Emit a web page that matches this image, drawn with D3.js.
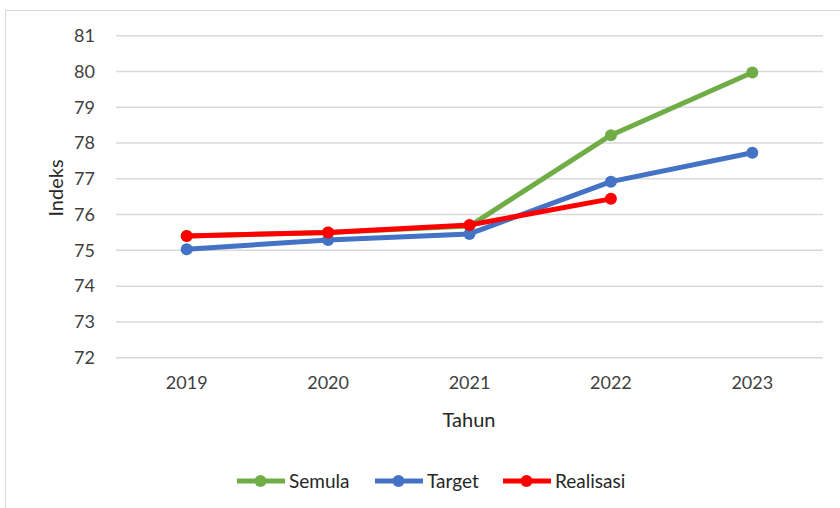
<!DOCTYPE html>
<html>
<head>
<meta charset="utf-8">
<script src="https://cdn.jsdelivr.net/npm/d3@7"></script>
<style>
  html, body { margin: 0; padding: 0; background: #fff; }
  svg { display: block; font-family: Lato, "Open Sans", sans-serif; }
</style>
</head>
<body>
<svg id="chart" width="840" height="508"></svg>
<script>
// Years on the x axis
const years = ["2019", "2020", "2021", "2022", "2023"];
// Index values per series (null = no data)
const semula = [75.4, 75.5, 75.68, 78.22, 79.97];
const target = [75.03, 75.29, 75.46, 76.92, 77.73];
const realisasi = [75.4, 75.5, 75.71, 76.44, null];
// Y axis ticks
const yTicks = [72, 73, 74, 75, 76, 77, 78, 79, 80, 81];

const series = [
  { name: "Semula", color: "#70AD47", values: semula },
  { name: "Target", color: "#4472C4", values: target },
  { name: "Realisasi", color: "#FF0000", values: realisasi }
];

const svg = d3.select("#chart");

// Chart frame
svg.append("rect")
  .attr("x", 5.5).attr("y", 10.5)
  .attr("width", 860).attr("height", 520)
  .attr("fill", "#fff")
  .attr("stroke", "#d9d9d9").attr("stroke-width", 1);

const plot = { left: 116, right: 823, top: 35.7, bottom: 357.7 };

const x = d3.scaleBand().domain(years).range([plot.left, plot.right]);
const y = d3.scaleLinear().domain([72, 81]).range([plot.bottom, plot.top]);

// Gridlines
svg.append("g")
  .selectAll("line")
  .data(yTicks)
  .join("line")
  .attr("x1", plot.left).attr("x2", plot.right)
  .attr("y1", d => y(d)).attr("y2", d => y(d))
  .attr("stroke", "#d9d9d9").attr("stroke-width", 1.5);

// Y axis labels
const yAxis = svg.append("g")
  .attr("transform", `translate(${plot.left},0)`)
  .call(d3.axisLeft(y).tickValues(yTicks).tickSize(0).tickPadding(21));
yAxis.select(".domain").remove();
yAxis.selectAll("text")
  .attr("font-size", 18).attr("fill", "#404040")
  .attr("font-family", "Lato, 'Open Sans', sans-serif");

// X axis labels
const xAxis = svg.append("g")
  .attr("transform", `translate(0,${plot.bottom})`)
  .call(d3.axisBottom(x).tickSize(0).tickPadding(19));
xAxis.select(".domain").remove();
xAxis.selectAll("text")
  .attr("font-size", 18).attr("fill", "#404040")
  .attr("font-family", "Lato, 'Open Sans', sans-serif");

// Axis titles
svg.append("text")
  .attr("x", 469).attr("y", 427)
  .attr("text-anchor", "middle")
  .attr("font-size", 20).attr("fill", "#262626")
  .text("Tahun");

svg.append("text")
  .attr("transform", "translate(63,188) rotate(-90)")
  .attr("text-anchor", "middle")
  .attr("font-size", 20).attr("fill", "#262626")
  .text("Indeks");

// Lines and markers
const line = d3.line()
  .defined(d => d.v !== null)
  .x(d => x(d.year) + x.bandwidth() / 2)
  .y(d => y(d.v));

series.forEach(s => {
  const pts = years.map((yr, i) => ({ year: yr, v: s.values[i] }));
  const g = svg.append("g");
  g.append("path")
    .datum(pts)
    .attr("d", line)
    .attr("fill", "none")
    .attr("stroke", s.color)
    .attr("stroke-width", 5)
    .attr("stroke-linejoin", "round");
  g.selectAll("circle")
    .data(pts.filter(d => d.v !== null))
    .join("circle")
    .attr("cx", d => x(d.year) + x.bandwidth() / 2)
    .attr("cy", d => y(d.v))
    .attr("r", 6)
    .attr("fill", s.color);
});

// Legend
const legendX = [237, 375, 503];
const legend = svg.append("g");
series.forEach((s, i) => {
  const lx = legendX[i];
  const ly = 481;
  legend.append("line")
    .attr("x1", lx).attr("x2", lx + 48)
    .attr("y1", ly).attr("y2", ly)
    .attr("stroke", s.color).attr("stroke-width", 5);
  legend.append("circle")
    .attr("cx", lx + 23.5).attr("cy", ly).attr("r", 6)
    .attr("fill", s.color);
  legend.append("text")
    .attr("x", lx + 52).attr("y", ly + 7)
    .attr("font-size", 19).attr("fill", "#262626")
    .text(s.name);
});
</script>
</body>
</html>
